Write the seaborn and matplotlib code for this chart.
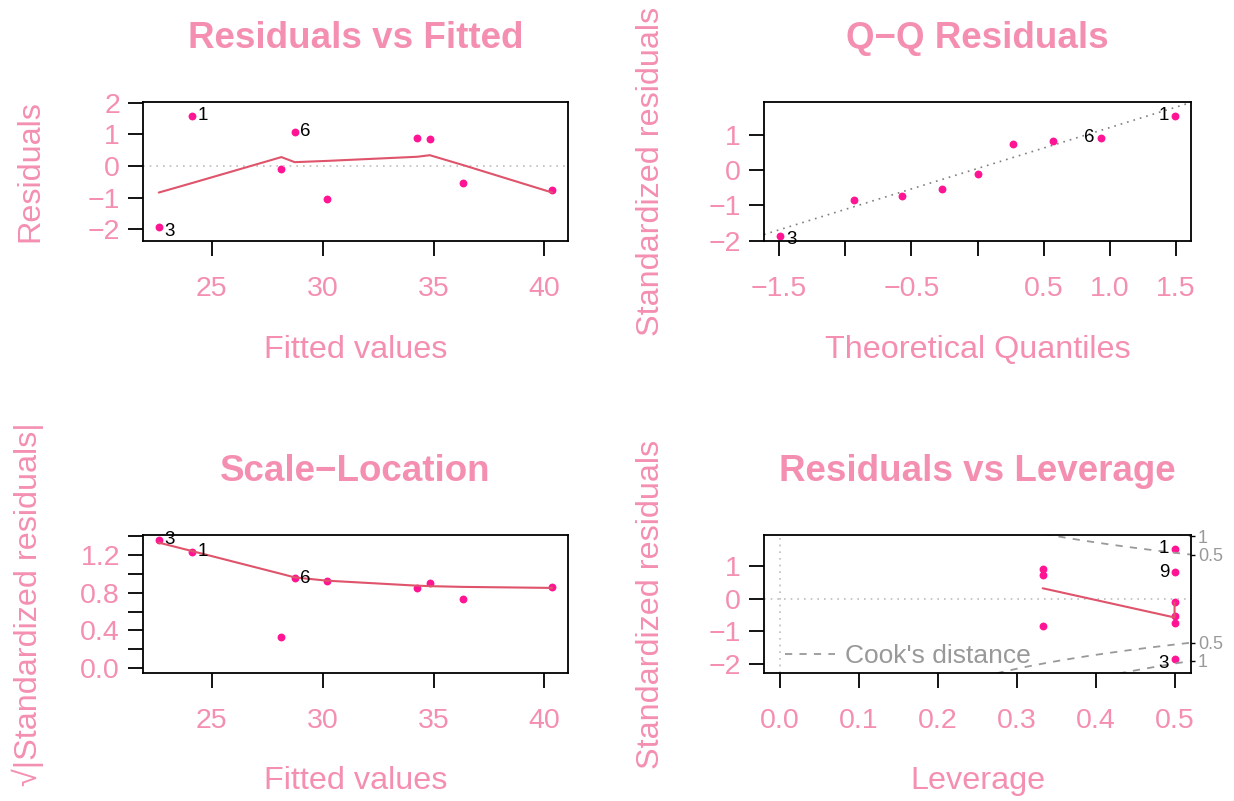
import matplotlib
matplotlib.use("Agg")
import matplotlib.pyplot as plt
import seaborn as sns
import numpy as np
from statistics import NormalDist

# values
fitted = [22.61, 24.11, 28.14, 28.74, 30.20, 34.26, 34.83, 36.32, 40.35]
residuals = [-1.93, 1.58, -0.11, 1.08, -1.03, 0.87, 0.85, -0.55, -0.77]
std_resid = [-1.86, 1.53, -0.11, 0.91, -0.85, 0.73, 0.82, -0.54, -0.74]
leverage = [0.5, 0.5, 0.5, 0.333, 0.333, 0.333, 0.5, 0.5, 0.5]
obs_ids = ["3", "1", "", "6", "", "", "9", "", ""]

rvf_smooth = [-0.84, -0.54, 0.28, 0.12, 0.16, 0.29, 0.34, 0.03, -0.84]
sl_smooth = [1.333, 1.243, 1.00, 0.963, 0.928, 0.875, 0.87, 0.862, 0.851]
lev_smooth_x = [0.333, 0.5, 0.5]
lev_smooth_y = [0.32, -0.58, -0.12]

qq_theory = [-1.49, -0.93, -0.57, -0.27, 0.0, 0.27, 0.57, 0.93, 1.49]

resid_labeled = ["3", "1", "6"]
lev_labeled = ["1", "9", "3"]
cook_levels = [0.5, 1]
n_params = 4

# tick positions / labels
rvf_xticks = [25, 30, 35, 40]
rvf_yticks = [-2, -1, 0, 1, 2]
qq_xticks = [-1.5, -1.0, -0.5, 0.0, 0.5, 1.0, 1.5]
qq_xlabels = ["\u22121.5", "", "\u22120.5", "", "0.5", "1.0", "1.5"]
qq_yticks = [-2, -1, 0, 1]
sl_yticks = [0.0, 0.2, 0.4, 0.6, 0.8, 1.0, 1.2, 1.4]
sl_ylabels = ["0.0", "", "0.4", "", "0.8", "", "1.2", ""]
lev_xticks = [0.0, 0.1, 0.2, 0.3, 0.4, 0.5]
lev_yticks = [-2, -1, 0, 1]

PINK = "#F48FB1"
POINT = "#FF1493"
SMOOTH = "#DF536B"
GREY = "#999999"

sns.set_theme(style="ticks")
plt.rcParams['font.family'] = ['Liberation Sans', 'DejaVu Sans']
plt.rcParams['axes.unicode_minus'] = True

W, H = 1234, 801
fig = plt.figure(figsize=(W / 100, H / 100), dpi=100)


def px_axes(left, top, right, bottom):
    return fig.add_axes([left / W, 1 - bottom / H, (right - left) / W, (bottom - top) / H])


def minus(v):
    return str(v).replace("-", "\u2212")


def style_axes(ax, title, xlabel, ylabel):
    for sp in ax.spines.values():
        sp.set_visible(True)
        sp.set_color("black")
        sp.set_linewidth(1.3)
    ax.tick_params(direction="out", length=10.5, width=1.3, color="black",
                   labelcolor=PINK, labelsize=20.5)
    ax.tick_params(axis="x", pad=15)
    ax.tick_params(axis="y", pad=6)
    ax.set_title(title, color=PINK, fontsize=26.5, fontweight="bold", y=1.46, va="center", pad=0)
    ax.set_xlabel(xlabel, color=PINK, fontsize=23.3, va="center")
    ax.set_ylabel(ylabel, color=PINK, fontsize=23.3, va="center")
    ax.xaxis.set_label_coords(0.5, -0.785)
    ax.yaxis.set_label_coords(-0.265, 0.5)


def label_points(ax, xs, ys, labels, side):
    for x, y, lab in zip(xs, ys, labels):
        dy = -3 if y < 0 else 0
        if side == "right":
            ax.annotate(lab, (x, y), xytext=(4, dy), textcoords="offset points",
                        ha="left", va="center", fontsize=13.5, color="black")
        else:
            ax.annotate(lab, (x, y), xytext=(-4, dy), textcoords="offset points",
                        ha="right", va="center", fontsize=13.5, color="black")


# 1. Residuals vs Fitted
ax1 = px_axes(143, 102, 568, 241)
ax1.axhline(0, color="#BEBEBE", lw=1.2, ls=(0, (1, 3)))
sns.scatterplot(x=fitted, y=residuals, ax=ax1, color=POINT, s=32, linewidth=0)
sns.lineplot(x=fitted, y=rvf_smooth, ax=ax1, color=SMOOTH, lw=1.5, estimator=None, sort=False)
ax1.set_xlim(21.9, 41.06)
ax1.set_ylim(-2.37, 2.02)
ax1.set_xticks(rvf_xticks)
ax1.set_xticklabels([minus(t) for t in rvf_xticks])
ax1.set_yticks(rvf_yticks)
ax1.set_yticklabels([minus(t) for t in rvf_yticks])
style_axes(ax1, "Residuals vs Fitted", "Fitted values", "Residuals")
idx = [obs_ids.index(k) for k in resid_labeled]
label_points(ax1, [fitted[i] for i in idx], [residuals[i] for i in idx], resid_labeled, "right")

# 2. Q-Q Residuals
ax2 = px_axes(764, 102, 1191, 241)
qq_sample = sorted(std_resid)
q25, q75 = np.quantile(qq_sample, [0.25, 0.75])
z = NormalDist().inv_cdf(0.75)
slope = (q75 - q25) / (2 * z)
ax2.axline((0, q25 + slope * z), slope=slope, color="#7F7F7F", lw=1.2, ls=(0, (1, 3)))
sns.scatterplot(x=qq_theory, y=qq_sample, ax=ax2, color=POINT, s=32, linewidth=0)
ax2.set_xlim(-1.614, 1.614)
ax2.set_ylim(-2.01, 1.92)
ax2.set_xticks(qq_xticks)
ax2.set_xticklabels(qq_xlabels)
ax2.set_yticks(qq_yticks)
ax2.set_yticklabels([minus(t) for t in qq_yticks])
style_axes(ax2, "Q\u2212Q Residuals", "Theoretical Quantiles", "Standardized residuals")
order = sorted(range(len(std_resid)), key=lambda i: std_resid[i])
for k in resid_labeled:
    pos = order.index(obs_ids.index(k))
    label_points(ax2, [qq_theory[pos]], [qq_sample[pos]], [k],
                 "right" if qq_theory[pos] < 0 else "left")

# 3. Scale-Location
ax3 = px_axes(143, 535, 568, 673)
sl_vals = np.sqrt(np.abs(std_resid))
sns.scatterplot(x=fitted, y=sl_vals, ax=ax3, color=POINT, s=32, linewidth=0)
sns.lineplot(x=fitted, y=sl_smooth, ax=ax3, color=SMOOTH, lw=1.5, estimator=None, sort=False)
ax3.set_xlim(21.9, 41.06)
ax3.set_ylim(-0.054, 1.414)
ax3.set_xticks(rvf_xticks)
ax3.set_xticklabels([minus(t) for t in rvf_xticks])
ax3.set_yticks(sl_yticks)
ax3.set_yticklabels(sl_ylabels)
style_axes(ax3, "Scale\u2212Location", "Fitted values", "\u221a|Standardized residuals|")
ax3.yaxis.set_label_coords(-0.272, 0.5)
label_points(ax3, [fitted[i] for i in idx], [sl_vals[i] for i in idx], resid_labeled, "right")

# 4. Residuals vs Leverage
ax4 = px_axes(764, 535, 1191, 673)
xlim4 = (-0.02, 0.5208)
ylim4 = (-2.29, 1.96)
ax4.axhline(0, color="#BEBEBE", lw=1.2, ls=(0, (1, 3)))
ax4.axvline(0, color="#BEBEBE", lw=1.2, ls=(0, (1, 3)))
hh = np.linspace(0.005, xlim4[1], 101)
for j, lev in enumerate(cook_levels):
    cl = np.sqrt(lev * n_params * (1 - hh) / hh)
    ax4.plot(hh, cl, color=GREY, lw=1.3, ls=(0, (4, 4)),
             label="Cook's distance" if j == 0 else None)
    ax4.plot(hh, -cl, color=GREY, lw=1.3, ls=(0, (4, 4)))
sns.scatterplot(x=leverage, y=std_resid, ax=ax4, color=POINT, s=32, linewidth=0)
sns.lineplot(x=lev_smooth_x, y=lev_smooth_y, ax=ax4, color=SMOOTH, lw=1.5, estimator=None, sort=False)
ax4.set_xlim(*xlim4)
ax4.set_ylim(*ylim4)
ax4.set_xticks(lev_xticks)
ax4.set_xticklabels([f"{t:.1f}" for t in lev_xticks])
ax4.set_yticks(lev_yticks)
ax4.set_yticklabels([minus(t) for t in lev_yticks])
style_axes(ax4, "Residuals vs Leverage", "Leverage", "Standardized residuals")
ax4.legend(loc="lower left", bbox_to_anchor=(0.025, -0.04), frameon=False, fontsize=19,
           labelcolor=GREY, handlelength=1.9, handletextpad=0.35, borderaxespad=0,
           borderpad=0.4)
lidx = [obs_ids.index(k) for k in lev_labeled]
label_points(ax4, [leverage[i] for i in lidx], [std_resid[i] for i in lidx], lev_labeled, "left")

# cook's distance levels on the right axis
aty = [np.sqrt(lev * n_params * (1 - xlim4[1]) / xlim4[1]) for lev in cook_levels]
axr = ax4.twinx()
axr.set_ylim(*ylim4)
axr.set_yticks([-a for a in aty[::-1]] + aty)
axr.set_yticklabels([str(l) for l in cook_levels[::-1]] + [str(l) for l in cook_levels])
axr.tick_params(axis="y", direction="out", length=3, width=1, color="black",
                labelcolor=GREY, labelsize=13, pad=2)
for sp in axr.spines.values():
    sp.set_visible(False)

fig.savefig("out.png", dpi=100)
